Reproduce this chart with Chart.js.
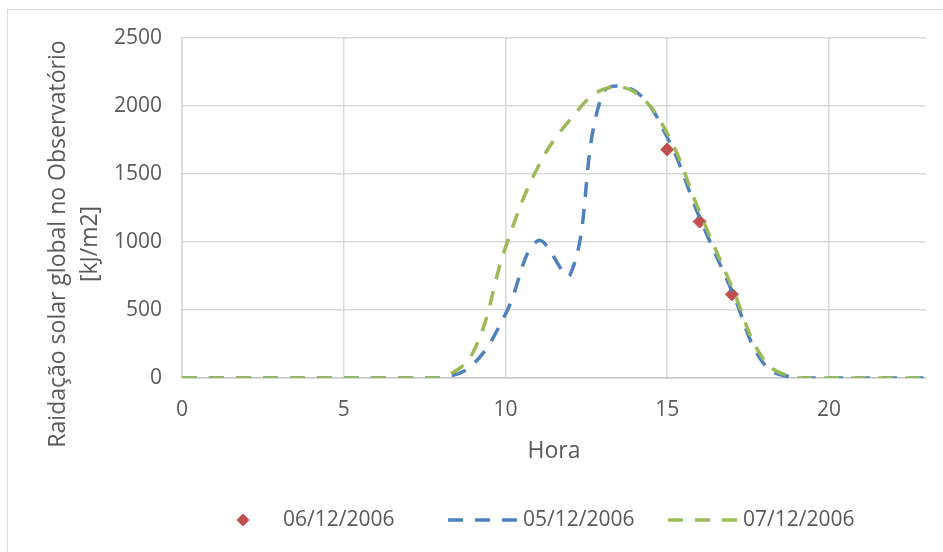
<!DOCTYPE html>
<html>
<head>
<meta charset="utf-8">
<script src="https://cdn.jsdelivr.net/npm/chart.js@4.4.1/dist/chart.umd.min.js"></script>
<style>
  html, body { margin: 0; padding: 0; background: #fff; overflow: hidden; }
  #frame {
    position: absolute; left: 7px; top: 9px; width: 960px; height: 560px;
    border: 1.5px solid #d9d9d9; box-sizing: border-box;
  }
  #chart { position: absolute; left: 0; top: 0; }
</style>
</head>
<body>
<div id="frame"></div>
<canvas id="chart" width="943" height="552"></canvas>
<script>
// hourly global solar radiation (kJ/m2)
const hours = [0, 1, 2, 3, 4, 5, 6, 7, 8, 9, 10, 11, 12, 13, 14, 15, 16, 17, 18, 19, 20, 21, 22, 23];
const rad0512 = [0, 0, 0, 0, 0, 0, 0, 0, 0, 100, 470, 1010, 760, 2090, 2110, 1770, 1180, 640, 100, 0, 0, 0, 0, 0];
const rad0712 = [0, 0, 0, 0, 0, 0, 0, 0, 0, 190, 960, 1550, 1900, 2120, 2100, 1800, 1220, 670, 130, 0, 0, 0, 0, 0];
const hours0612 = [15, 16, 17];
const rad0612 = [1680, 1150, 615];

const xTicks = [0, 5, 10, 15, 20];
const yTitle = ["Raidação solar global no Observatório", "[kJ/m2]"];
const xTitle = "Hora";

const FONT = "'Open Sans', sans-serif";
const TXT = "#595959";
const RED = "#c0504d";
const BLUE = "#4f81bd";
const GREEN = "#9bbb59";

const pts = (xs, ys) => xs.map((x, i) => ({ x, y: ys[i] }));

// y title + legend drawn by hand, like excel places them
const extras = {
  id: "extras",
  afterDraw(chart) {
    const ctx = chart.ctx;
    ctx.save();
    ctx.fillStyle = TXT;
    ctx.font = "23px " + FONT;
    ctx.textAlign = "center";
    ctx.textBaseline = "middle";
    ctx.translate(58, 244);
    ctx.rotate(-Math.PI / 2);
    yTitle.forEach((t, i) => ctx.fillText(t, 0, i * 32));
    ctx.restore();

    const ly = 520;
    ctx.save();
    ctx.font = "21px " + FONT;
    ctx.textBaseline = "middle";
    ctx.textAlign = "left";
    // 06/12 - diamond marker
    ctx.fillStyle = RED;
    ctx.beginPath();
    ctx.moveTo(243, ly - 6.5);
    ctx.lineTo(249.5, ly);
    ctx.lineTo(243, ly + 6.5);
    ctx.lineTo(236.5, ly);
    ctx.closePath();
    ctx.fill();
    ctx.fillStyle = TXT;
    ctx.fillText("06/12/2006", 283, ly);
    // dashed series
    const dashed = [
      [448, BLUE, "05/12/2006"],
      [668, GREEN, "07/12/2006"],
    ];
    for (const [x0, col, label] of dashed) {
      ctx.strokeStyle = col;
      ctx.lineWidth = 3.5;
      ctx.setLineDash([15, 12]);
      ctx.beginPath();
      ctx.moveTo(x0, ly);
      ctx.lineTo(x0 + 70, ly);
      ctx.stroke();
      ctx.fillStyle = TXT;
      ctx.fillText(label, x0 + 75, ly);
    }
    ctx.restore();
  },
};

new Chart(document.getElementById("chart"), {
  type: "line",
  data: {
    datasets: [
      {
        label: "06/12/2006",
        data: pts(hours0612, rad0612),
        showLine: false,
        pointStyle: "rectRot",
        pointRadius: 6.5,
        pointBackgroundColor: RED,
        pointBorderColor: RED,
        borderColor: RED,
        order: 2,
      },
      {
        label: "05/12/2006",
        data: pts(hours, rad0512),
        borderColor: BLUE,
        borderWidth: 3.5,
        borderDash: [15, 12],
        pointRadius: 0,
        tension: 0.4,
        fill: false,
        order: 1,
      },
      {
        label: "07/12/2006",
        data: pts(hours, rad0712),
        borderColor: GREEN,
        borderWidth: 3.5,
        borderDash: [15, 12],
        pointRadius: 0,
        tension: 0.4,
        fill: false,
        order: 0,
      },
    ],
  },
  options: {
    responsive: false,
    animation: false,
    layout: { padding: { left: 0, top: 38, right: 17, bottom: 74 } },
    plugins: { legend: { display: false }, tooltip: { enabled: false } },
    scales: {
      x: {
        type: "linear",
        min: 0,
        max: 23,
        afterBuildTicks: (s) => {
          s.ticks = xTicks.map((v) => ({ value: v }));
        },
        afterFit: (s) => {
          s.height = 100;
        },
        ticks: { color: TXT, font: { family: FONT, size: 21 }, padding: 19, maxRotation: 0 },
        grid: { color: "#d9d9d9", lineWidth: 1.5, drawTicks: false },
        border: { color: "#c8c8c8", width: 1.5 },
        title: {
          display: true,
          text: xTitle,
          color: TXT,
          font: { family: FONT, size: 23 },
          padding: { top: 0, bottom: 13 },
        },
      },
      y: {
        min: 0,
        max: 2500,
        afterFit: (s) => {
          s.width = 182;
        },
        ticks: {
          stepSize: 500,
          color: TXT,
          font: { family: FONT, size: 21 },
          padding: 20,
          format: { useGrouping: false },
        },
        grid: { color: "#d9d9d9", lineWidth: 1.5, drawTicks: false },
        border: { color: "#d9d9d9", width: 1.5 },
      },
    },
  },
  plugins: [extras],
});
</script>
</body>
</html>
